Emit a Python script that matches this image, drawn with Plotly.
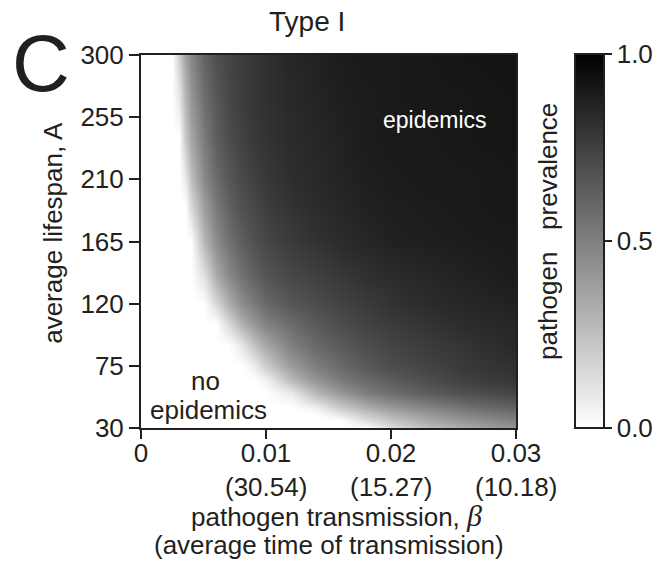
import plotly.graph_objects as go

# pathogen transmission (beta) sample columns
beta = [0, 0.001, 0.002, 0.0025, 0.003, 0.0035, 0.004, 0.005, 0.006, 0.007, 0.008,
        0.009, 0.010, 0.012, 0.014, 0.016, 0.018, 0.020, 0.023, 0.026, 0.030]
# average lifespan (A) sample rows
lifespan = [30, 35, 40, 45, 55, 65, 75, 90, 105, 120, 140, 165, 190, 210, 240, 270, 300]

# pathogen prevalence (row per lifespan, column per beta)
prev_A30 = [0]*17 + [.13, .25, .34, .42]
prev_A35 = [0]*16 + [.12, .22, .34, .41, .49]
prev_A40 = [0]*15 + [.10, .22, .31, .41, .49, .55]
prev_A45 = [0]*14 + [.07, .22, .32, .41, .49, .56, .62]
prev_A55 = [0]*13 + [.08, .28, .41, .51, .57, .64, .69, .73]
prev_A65 = [0]*12 + [.05, .27, .42, .52, .59, .64, .70, .75, .79]
prev_A75 = [0]*11 + [.07, .20, .39, .51, .59, .65, .70, .74, .78, .81]
prev_A90 = [0]*10 + [.09, .24, .35, .50, .59, .65, .70, .73, .77, .80, .84]
prev_A105 = [0]*9 + [.15, .30, .41, .49, .58, .65, .70, .74, .77, .80, .83, .85]
prev_A120 = [0]*8 + [.15, .32, .44, .52, .59, .66, .70, .74, .77, .80, .83, .85, .87]
prev_A140 = [0]*7 + [.12, .33, .46, .55, .62, .67, .72, .75, .78, .81, .83, .85, .87, .89]
prev_A165 = [0]*7 + [.28, .45, .56, .63, .68, .72, .77, .80, .83, .85, .87, .88, .89, .90]
prev_A190 = [0]*6 + [.15, .38, .52, .62, .68, .72, .76, .80, .83, .85, .87, .88, .89, .90, .91]
prev_A210 = [0]*5 + [.08, .25, .46, .58, .66, .71, .75, .78, .82, .84, .86, .88, .89, .90, .90, .91]
prev_A240 = [0]*5 + [.21, .35, .52, .63, .70, .74, .78, .80, .83, .85, .87, .89, .90, .90, .91, .92]
prev_A270 = [0]*4 + [.10, .28, .41, .57, .66, .72, .76, .79, .81, .84, .86, .88, .89, .90, .91, .91, .92]
prev_A300 = [0]*4 + [.19, .36, .47, .61, .69, .73, .76, .79, .81, .85, .87, .89, .90, .90, .91, .92, .93]

prevalence = [prev_A30, prev_A35, prev_A40, prev_A45, prev_A55, prev_A65, prev_A75,
              prev_A90, prev_A105, prev_A120, prev_A140, prev_A165, prev_A190,
              prev_A210, prev_A240, prev_A270, prev_A300]

x_ticks = [0, 0.01, 0.02, 0.03]
x_tick_labels = ["0", "0.01", "0.02", "0.03"]
x_time_labels = ["", "(30.54)", "(15.27)", "(10.18)"]
y_ticks = [30, 75, 120, 165, 210, 255, 300]
y_tick_labels = ["30", "75", "120", "165", "210", "255", "300"]
cbar_ticks = [0, 0.5, 1.0]
cbar_tick_labels = ["0.0", "0.5", "1.0"]

FONT = "Liberation Sans, Arial, Helvetica, sans-serif"
INK = "#231f20"

fig = go.Figure()
fig.add_trace(go.Heatmap(
    x=beta, y=lifespan, z=prevalence,
    zmin=0, zmax=1, zsmooth="best",
    colorscale=[[0, "#ffffff"], [1, "#000000"]],
    hoverinfo="skip",
    colorbar=dict(
        x=1.157, xanchor="left", xpad=0,
        y=0, yanchor="bottom", ypad=0,
        len=374, lenmode="pixels",
        thickness=29, thicknessmode="pixels",
        outlinewidth=2, outlinecolor=INK,
        tickmode="array", tickvals=cbar_ticks, ticktext=cbar_tick_labels,
        ticks="outside", ticklen=7, tickwidth=2, tickcolor=INK,
        tickfont=dict(family=FONT, size=26, color=INK),
    ),
))

fig.update_layout(
    width=654, height=561,
    margin=dict(l=141, r=138, t=55, b=133, pad=0, autoexpand=False),
    paper_bgcolor="white", plot_bgcolor="white",
    font=dict(family=FONT, color=INK),
    xaxis=dict(
        range=[0, 0.03], tickmode="array", tickvals=x_ticks, ticktext=x_tick_labels,
        ticks="outside", ticklen=9, tickwidth=2, tickcolor=INK,
        ticklabelstandoff=-8,
        showline=True, linewidth=2, linecolor=INK, mirror=True,
        showgrid=False, zeroline=False, automargin=False,
        tickfont=dict(family=FONT, size=26, color=INK),
    ),
    yaxis=dict(
        range=[30, 300], tickmode="array", tickvals=y_ticks, ticktext=y_tick_labels,
        ticks="outside", ticklen=10, tickwidth=2, tickcolor=INK,
        showline=True, linewidth=2, linecolor=INK, mirror=True,
        showgrid=False, zeroline=False, automargin=False,
        tickfont=dict(family=FONT, size=26, color=INK),
    ),
)

ann = []
# second line of x tick labels (average time of transmission)
for xv, lab in zip(x_ticks, x_time_labels):
    if lab:
        ann.append(dict(x=xv, y=(428 - 487) / 373, xref="x", yref="paper", text=lab,
                        showarrow=False, xanchor="center", yanchor="middle",
                        font=dict(family=FONT, size=26, color=INK)))
# axis titles
ann.append(dict(x=0.52, y=-0.234, xref="paper", yref="paper",
                text="pathogen transmission, <span style=\"font-family:'Liberation Serif', 'Times New Roman', serif; font-size:30px\"><i>β</i></span>",
                showarrow=False, xanchor="center", yanchor="middle",
                font=dict(family=FONT, size=26, color=INK)))
ann.append(dict(x=0.50, y=-0.314, xref="paper", yref="paper",
                text="(average time of transmission)",
                showarrow=False, xanchor="center", yanchor="middle",
                font=dict(family=FONT, size=26, color=INK)))
ann.append(dict(x=-0.235, y=0.523, xref="paper", yref="paper",
                text="average lifespan, A", textangle=-90,
                showarrow=False, xanchor="center", yanchor="middle",
                font=dict(family=FONT, size=26, color=INK)))
# colorbar title
ann.append(dict(x=(548 - 141) / 375, y=(428 - 232) / 373, xref="paper", yref="paper",
                text="pathogen   prevalence", textangle=-90,
                showarrow=False, xanchor="center", yanchor="middle",
                font=dict(family=FONT, size=26, color=INK)))
# title and panel letter
ann.append(dict(x=(307 - 141) / 375, y=(428 - 22) / 373, xref="paper", yref="paper",
                text="Type I", showarrow=False, xanchor="center", yanchor="middle",
                font=dict(family=FONT, size=28, color=INK)))
ann.append(dict(x=(41 - 141) / 375, y=(428 - 63) / 373, xref="paper", yref="paper",
                text="C", showarrow=False, xanchor="center", yanchor="middle",
                font=dict(family=FONT, size=80, color=INK)))
# region labels
ann.append(dict(x=0.0235, y=253, xref="x", yref="y", text="epidemics",
                showarrow=False, xanchor="center", yanchor="middle",
                font=dict(family=FONT, size=23, color="white")))
ann.append(dict(x=0.00515, y=64, xref="x", yref="y", text="no",
                showarrow=False, xanchor="center", yanchor="middle",
                font=dict(family=FONT, size=26, color=INK)))
ann.append(dict(x=0.0054, y=43, xref="x", yref="y", text="epidemics",
                showarrow=False, xanchor="center", yanchor="middle",
                font=dict(family=FONT, size=26, color=INK)))

fig.update_layout(annotations=ann)
fig.write_html("out.html")
